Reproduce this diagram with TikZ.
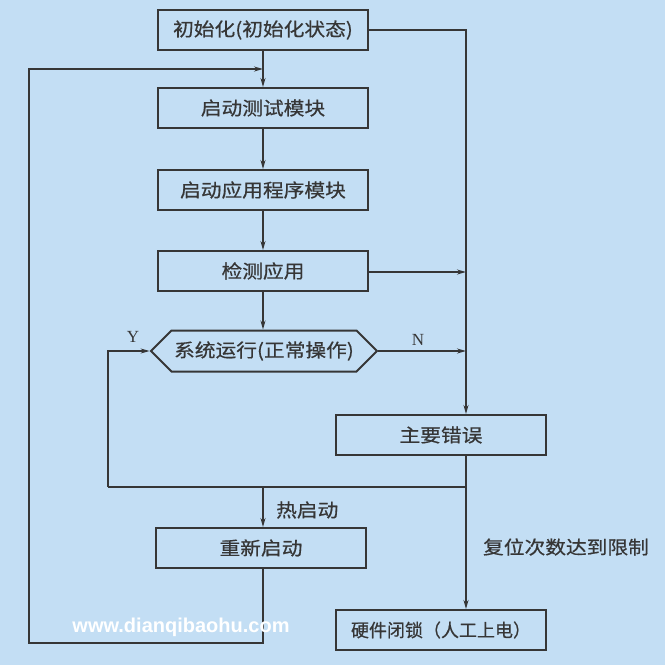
\documentclass[tikz,border=0pt]{standalone}
\usepackage{fontspec}
\newfontfamily\cjk[FakeStretch=1.12,FakeBold=0.6]{Noto Sans CJK SC}
\newfontfamily\cjkn[FakeBold=0.6]{Noto Sans CJK SC}
\newfontfamily\serifl{Liberation Serif}
\newfontfamily\wmfont{Liberation Sans}
\usetikzlibrary{shapes.symbols,arrows.meta}
\definecolor{bg}{HTML}{C3DEF4}
\definecolor{ink}{HTML}{363636}
\tikzset{
  box/.style={draw=ink, line width=2pt, fill=bg, minimum width=210pt, minimum height=40pt, inner sep=0pt, font=\cjk\fontsize{18.5}{20}\selectfont, text=ink},
  hexbox/.style={draw=ink, line width=2pt, fill=bg, signal, signal to=west and east, signal pointer angle=90, minimum width=226pt, minimum height=41pt, inner sep=0pt, font=\cjk\fontsize{18.5}{20}\selectfont, text=ink},
  conn/.style={draw=ink, line width=1.3pt},
  arr/.style={conn, -{Stealth[length=9pt,width=5pt]}},
  lbl/.style={font=\cjk\fontsize{18.5}{20}\selectfont, text=ink, inner sep=0pt},
  yn/.style={font=\serifl\fontsize{17}{19}\selectfont, text=ink, inner sep=0pt}
}
\begin{document}
\begin{tikzpicture}[x=1pt,y=-1pt]
\fill[bg] (0,0) rectangle (665,665);
\useasboundingbox (0,0) rectangle (665,665);
\node[box] (b1) at (263,30) {初始化(初始化状态)};
\node[box] (b2) at (263,108) {启动测试模块};
\node[box] (b3) at (263,190) {启动应用程序模块};
\node[box] (b4) at (263,271) {检测应用};
\node[hexbox] (hx) at (264,351) {系统运行(正常操作)};
\node[box] (err) at (441,435) {主要错误};
\node[box] (rs) at (261,548) {重新启动};
\node[box, font=\cjkn\fontsize{18}{20}\selectfont] (hw) at (441,630) {硬件闭锁（人工上电）};
\coordinate (j1) at (263,69);
\coordinate (r1) at (466,30);
\coordinate (r4) at (466,272);
\coordinate (rh) at (466,351);
\coordinate (jr) at (466,487);
\coordinate (jm) at (263,487);
\coordinate (jl) at (108,487);
\coordinate (yl) at (108,351);
\coordinate (lb) at (263,643);
\coordinate (lbl) at (29,643);
\coordinate (ltl) at (29,69);
\draw[arr] (b1.south) -- (b2.north);
\draw[arr] (b2.south) -- (b3.north);
\draw[arr] (b3.south) -- (b4.north);
\draw[arr] (b4.south) -- (b4.south |- hx.north);
\draw[arr] (b1.east) -- (r1) -- (r1 |- err.north);
\draw[arr] (b4.east |- r4) -- (r4);
\draw[arr] (hx.east) -- (rh);
\draw[arr] (r1 |- err.south) -- (r1 |- hw.north);
\draw[conn] (jr) -- (jl);
\draw[arr] (jl) -- (yl) -- (hx.west);
\draw[arr] (jm) -- (jm |- rs.north);
\draw[arr] (rs.south -| lb) -- (lb) -- (lbl) -- (ltl) -- (j1);
\node[yn] (ylab) at (133,337) {Y};
\node[yn] (nlab) at (418,340) {N};
\node[lbl, anchor=west] (hot) at (276,510) {热启动};
\node[lbl] (lim) at (566,547) {复位次数达到限制};
\node[font=\wmfont\bfseries\fontsize{20}{22}\selectfont, text=white, inner sep=0pt] (wm) at (181,627) {www.dianqibaohu.com};
\end{tikzpicture}
\end{document}
